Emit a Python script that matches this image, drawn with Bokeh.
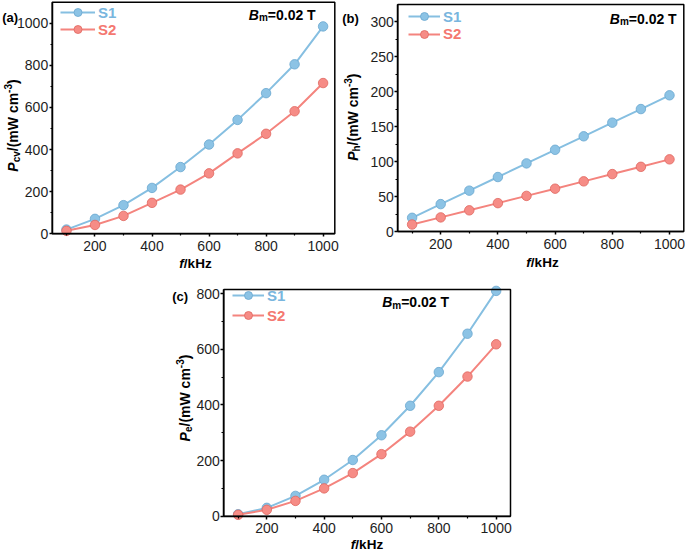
from math import pi
from bokeh.plotting import figure
from bokeh.models import (Range1d, Label, Legend, LegendItem, FixedTicker, Spacer,
                          LinearAxis, BoxAnnotation)
from bokeh.layouts import row, column
from bokeh.embed import file_html
from bokeh.resources import INLINE

# ---------------- data ----------------
freq = [100, 200, 300, 400, 500, 600, 700, 800, 900, 1000]
pcv_s1 = [20, 71, 136, 218, 317, 424, 541, 668, 805, 985]
pcv_s2 = [14, 42, 85, 147, 210, 287, 382, 475, 582, 716]
ph_s1 = [19.6, 39.2, 58.5, 78, 97.5, 117, 136.3, 155.8, 175.3, 195]
ph_s2 = [10, 20.2, 30.3, 40.6, 51, 61.3, 71.8, 82.2, 92.6, 103.3]
pe_s1 = [7, 30, 73, 131, 202, 291, 397, 518, 656, 810]
pe_s2 = [5, 23, 55, 100, 155, 223, 304, 397, 502, 618]

x_ticks = [200, 400, 600, 800, 1000]
x_minor = [100, 300, 500, 700, 900]
pcv_ticks = [0, 200, 400, 600, 800, 1000]
pcv_minor = [100, 300, 500, 700, 900]
ph_ticks = [0, 50, 100, 150, 200, 250, 300]
ph_minor = [25, 75, 125, 175, 225, 275]
pe_ticks = [0, 200, 400, 600, 800]
pe_minor = [100, 300, 500, 700]

series_names = ["S1", "S2"]

# ---------------- style ----------------
BLUE_LINE, BLUE_FILL, BLUE_EDGE, BLUE_TEXT = "#86BFE1", "#8CC3E5", "#6AA7CF", "#79B6DE"
RED_LINE, RED_FILL, RED_EDGE, RED_TEXT = "#F4847E", "#F68C86", "#E0675F", "#F47870"
FONT = "Liberation Sans"

BOLD_W = {'P': 667, 'B': 722, 'c': 556, 'v': 556, 'h': 611, 'e': 556, 'm': 889, '/': 278,
          '(': 333, ')': 333, 'W': 944, ' ': 278, '-': 333, '3': 556, '=': 584, '0': 556,
          '.': 278, '2': 556, 'T': 611, 'f': 333, 'k': 556, 'H': 722, 'z': 500}


def tw(s, size):
    return sum(BOLD_W.get(ch, 556) for ch in s) * size / 1000.0


def rich(p, x, y, pieces, vertical=False):
    """pieces of differently styled text, x/y in screen px from the bottom-left of the canvas"""
    pos = 0.0
    for text, style, size, shift in pieces:
        if vertical:
            lab = Label(x=x - shift, y=y + pos, angle=pi / 2)
        else:
            lab = Label(x=x + pos, y=y + shift)
        lab.x_units = "screen"
        lab.y_units = "screen"
        lab.text = text
        lab.text_font = FONT
        lab.text_font_style = style
        lab.text_font_size = f"{size}px"
        lab.text_color = "black"
        lab.text_align = "left"
        lab.text_baseline = "alphabetic"
        p.add_layout(lab)
        pos += tw(text, size)


def make_panel(ys1, ys2, yend, yticks, yminor, xbox, W, H, box, sub,
               ylab, xlab, bm, letter, letter_pos, leg_x, leg_w, leg_centers):
    L, R, T, B = box            # plot box in canvas px (from top-left)
    x0, x1 = xbox
    y0, y1 = 0, yend
    sx = (x1 - x0) / (R - L)
    sy = (y1 - y0) / (B - T)
    xr = Range1d(x0 - L * sx, x1 + (W - R) * sx)
    yr = Range1d(y0 - (H - B) * sy, y1 + T * sy)
    p = figure(width=W, height=H, output_backend="svg", toolbar_location=None,
               x_range=xr, y_range=yr, x_axis_location=None, y_axis_location=None,
               min_border=0)
    p.grid.visible = False
    p.outline_line_alpha = 0
    p.background_fill_color = "white"
    p.border_fill_color = "white"

    xa = LinearAxis(fixed_location=y0, bounds=(x0, x1))
    ya = LinearAxis(fixed_location=x0, bounds=(y0, y1))
    for ax, ticks, minor in ((xa, x_ticks, x_minor), (ya, yticks, yminor)):
        ax.ticker = FixedTicker(ticks=ticks, minor_ticks=minor)
        ax.axis_line_width = 1.5
        ax.axis_line_color = "black"
        ax.major_tick_line_width = 1.5
        ax.minor_tick_line_width = 1.2
        ax.major_tick_in = 0
        ax.major_tick_out = 3
        ax.minor_tick_in = 0
        ax.minor_tick_out = 2
        ax.major_label_text_font = FONT
        ax.major_label_text_font_size = "14px"
        ax.major_label_text_color = "#1e1e1e"
    xa.major_label_standoff = 4
    ya.major_label_standoff = 1
    p.add_layout(xa, "below")
    p.add_layout(ya, "left")
    p.add_layout(BoxAnnotation(left=x0, right=x1, bottom=y0, top=y1, fill_alpha=0,
                               line_color="black", line_width=1.5, line_alpha=1))

    l1 = p.line(freq, ys1, line_color=BLUE_LINE, line_width=2)
    m1 = p.scatter(freq, ys1, size=9.5, fill_color=BLUE_FILL, line_color=BLUE_EDGE, line_width=0.8)
    l2 = p.line(freq, ys2, line_color=RED_LINE, line_width=2)
    m2 = p.scatter(freq, ys2, size=9.5, fill_color=RED_FILL, line_color=RED_EDGE, line_width=0.8)

    for (name, rends, col), cy in zip(
            ((series_names[0], [l1, m1], BLUE_TEXT), (series_names[1], [l2, m2], RED_TEXT)),
            leg_centers):
        leg = Legend(items=[LegendItem(label=name, renderers=rends)],
                     location=(leg_x, H - cy - 10))
        leg.padding = 0
        leg.margin = 0
        leg.glyph_width = leg_w
        leg.glyph_height = 20
        leg.label_height = 20
        leg.label_standoff = 3
        leg.label_text_font = FONT
        leg.label_text_font_style = "bold"
        leg.label_text_font_size = "15px"
        leg.label_text_color = col
        leg.border_line_alpha = 0
        leg.background_fill_alpha = 0
        p.add_layout(leg)

    ypieces = [("P", "bold italic", 14, 0), (sub, "bold", 10, -3), ("/(mW cm", "bold", 14, 0),
               ("-3", "bold", 10, 5), (")", "bold", 14, 0)]
    ylen = sum(tw(t, s) for t, _, s, _ in ypieces)
    rich(p, ylab[0], H - ylab[1] - ylen / 2, ypieces, vertical=True)
    xpieces = [("f", "bold italic", 13.5, 0), ("/kHz", "bold", 13.5, 0)]
    xlen = sum(tw(t, s) for t, _, s, _ in xpieces)
    rich(p, xlab[0] - xlen / 2, H - xlab[1], xpieces)
    rich(p, bm[0], H - bm[1], [("B", "bold italic", 14, 0), ("m", "bold", 10, -3),
                               ("=0.02 T", "bold", 14, 0)])
    rich(p, letter_pos[0], H - letter_pos[1], [(letter, "bold", 13, 0)])
    return p


pa = make_panel(pcv_s1, pcv_s2, 1100, pcv_ticks, pcv_minor, (50, 1041), 340, 270,
                (51.7, 334.3, 1.7, 233.3), "cv",
                (12.5, 125), (195, 263), (248.3, 14), "(a)", (1.7, 17.3),
                60, 35, (12, 29))
pb = make_panel(ph_s1, ph_s2, 325, ph_ticks, ph_minor, (50, 1050), 345, 270,
                (57.3, 343.3, 4, 231), "h",
                (12.5, 116.7), (202, 262), (269.3, 18.3), "(b)", (1.7, 18.3),
                68, 32, (16, 33.7))
pc = make_panel(pe_s1, pe_s2, 815, pe_ticks, pe_minor, (50, 1050), 355, 282,
                (58.3, 345, 19, 245.7), "e",
                (19.7, 127.5), (201.5, 274), (216.7, 31.7), "(c)", (6.7, 25.7),
                67, 32, (25, 45))

layout = column(row(pa, pb), row(Spacer(width=165, height=10), pc))
open("out.html", "w").write(file_html(layout, INLINE))
